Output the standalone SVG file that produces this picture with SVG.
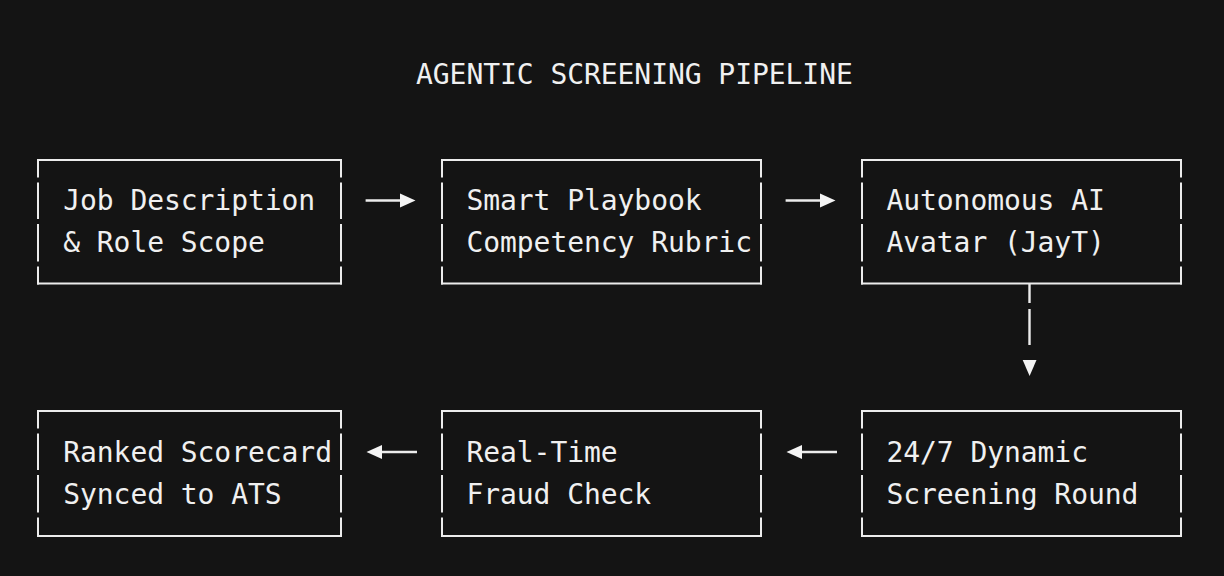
<svg xmlns="http://www.w3.org/2000/svg" width="1224" height="576" viewBox="0 0 1224 576">
  <style>
    .t { font-family: "DejaVu Sans Mono", "Liberation Mono", monospace; font-size: 28px; letter-spacing: -0.06px; fill: #f0f0f0; }
    .b { fill: none; stroke: #ececec; stroke-width: 2; }
    .c { fill: none; stroke: #ececec; stroke-width: 2.4; }
    .h { fill: #f4f4f4; }
  </style>
  <defs>
    <path id="side" d="M0 0 V17.5 M0 22.5 V59 M0 64 V101.5 M0 106.5 V124.5"/>
  </defs>
  <rect width="1224" height="576" fill="#141414"/>
  <text class="t" x="416" y="83.5">AGENTIC SCREENING PIPELINE</text>

  <g id="node-job">
    <g class="b" transform="translate(38,160)">
      <path d="M-1 0 H304 M-1 123.5 H304"/>
      <use href="#side"/>
      <use href="#side" x="303"/>
    </g>
    <text class="t" x="63.2" y="209.5">Job Description</text>
    <text class="t" x="63.2" y="251.5">&amp; Role Scope</text>
  </g>

  <g id="node-playbook">
    <g class="b" transform="translate(442,160)">
      <path d="M-1 0 H320 M-1 123.5 H320"/>
      <use href="#side"/>
      <use href="#side" x="319"/>
    </g>
    <text class="t" x="466.4" y="209.5">Smart Playbook</text>
    <text class="t" x="466.4" y="251.5">Competency Rubric</text>
  </g>

  <g id="node-avatar">
    <g class="b" transform="translate(862,160)">
      <path d="M-1 0 H320 M-1 123.5 H320"/>
      <use href="#side"/>
      <use href="#side" x="319"/>
    </g>
    <text class="t" x="886.4" y="209.5">Autonomous AI</text>
    <text class="t" x="886.4" y="251.5">Avatar (JayT)</text>
  </g>

  <g id="node-scorecard">
    <g class="b" transform="translate(38,411)">
      <path d="M-1 0 H304 M-1 125 H304"/>
      <use href="#side"/>
      <use href="#side" x="303"/>
    </g>
    <text class="t" x="63.2" y="462">Ranked Scorecard</text>
    <text class="t" x="63.2" y="504">Synced to ATS</text>
  </g>

  <g id="node-fraud">
    <g class="b" transform="translate(442,411)">
      <path d="M-1 0 H320 M-1 125 H320"/>
      <use href="#side"/>
      <use href="#side" x="319"/>
    </g>
    <text class="t" x="466.4" y="462">Real-Time</text>
    <text class="t" x="466.4" y="504">Fraud Check</text>
  </g>

  <g id="node-screening">
    <g class="b" transform="translate(862,411)">
      <path d="M-1 0 H320 M-1 125 H320"/>
      <use href="#side"/>
      <use href="#side" x="319"/>
    </g>
    <text class="t" x="886.4" y="462">24/7 Dynamic</text>
    <text class="t" x="886.4" y="504">Screening Round</text>
  </g>

  <g id="connectors">
    <path class="c" d="M365.6 200.5 H401"/>
    <polygon class="h" points="400,193.5 415.5,200.5 400,207.5"/>
    <path class="c" d="M785.6 200.5 H821"/>
    <polygon class="h" points="820,193.5 835.5,200.5 820,207.5"/>
    <path class="c" d="M1029.5 283.5 V303 M1029.5 309 V345"/>
    <polygon class="h" points="1022.7,360 1036.5,360 1029.6,376"/>
    <path class="c" d="M381 452 H417"/>
    <polygon class="h" points="382,445 366.5,452 382,459"/>
    <path class="c" d="M801 452 H837"/>
    <polygon class="h" points="802,445 786.5,452 802,459"/>
  </g>
</svg>
